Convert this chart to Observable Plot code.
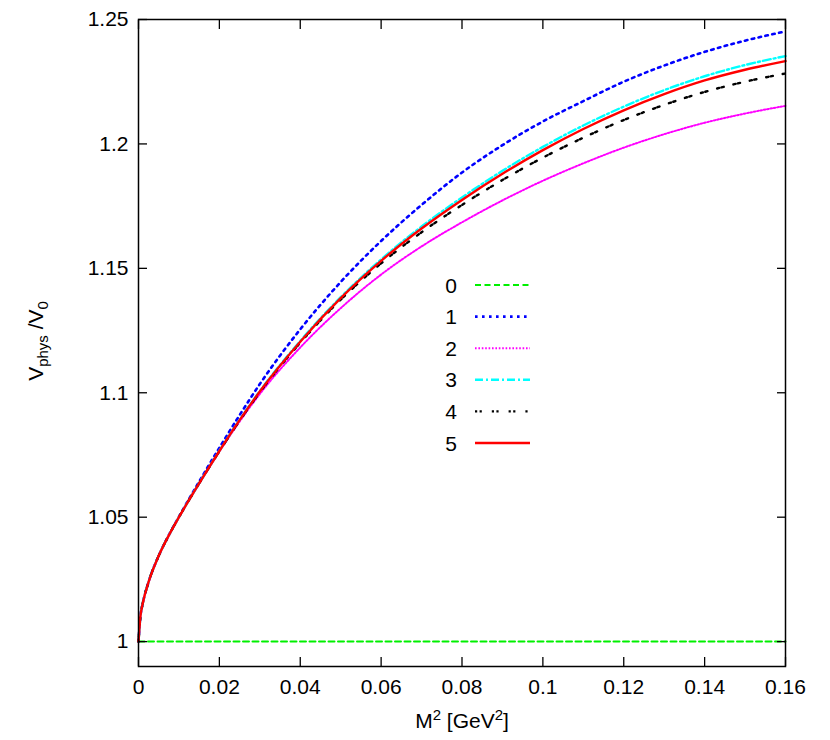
<!DOCTYPE html>
<html><head><meta charset="utf-8">
<script src="https://cdn.jsdelivr.net/npm/d3@7"></script>
<script src="https://cdn.jsdelivr.net/npm/@observablehq/plot@0.6"></script>
<style>
body{margin:0;background:#fff;}
#wrap{position:relative;width:830px;height:740px;font-family:"Liberation Sans",Arial,sans-serif;}
</style></head><body><div id="wrap"></div>
<script>
// x grid (M^2 in GeV^2)
const xs = [0, 0.0005, 0.001, 0.0025, 0.005, 0.0075, 0.01, 0.015, 0.02, 0.025, 0.03, 0.04, 0.05, 0.06, 0.07, 0.08, 0.09, 0.10, 0.11, 0.12, 0.13, 0.14, 0.15, 0.16];
// series values V_phys/V_0
const s0 = [1,1,1,1,1,1,1,1,1,1,1,1,1,1,1,1,1,1,1,1,1,1,1,1];
const s1 = [1.000, 1.0105, 1.015, 1.024, 1.0345, 1.0428, 1.0502, 1.0643, 1.0779, 1.091, 1.1035, 1.1255, 1.1445, 1.161, 1.1755, 1.1885, 1.1995, 1.209, 1.2172, 1.225, 1.2315, 1.237, 1.2415, 1.2452];
const s2 = [1.000, 1.0105, 1.015, 1.024, 1.0345, 1.0427, 1.0500, 1.0635, 1.0764, 1.0884, 1.0995, 1.1182, 1.134, 1.1475, 1.1588, 1.1685, 1.1773, 1.1852, 1.1922, 1.1985, 1.2039, 1.2085, 1.2122, 1.2153];
const s3 = [1.000, 1.0105, 1.015, 1.024, 1.0345, 1.0427, 1.0500, 1.0636, 1.0767, 1.0891, 1.1007, 1.1208, 1.1384, 1.1536, 1.1668, 1.1785, 1.1892, 1.1988, 1.2074, 1.215, 1.2216, 1.2272, 1.2317, 1.2353];
const s4 = [1.000, 1.0105, 1.015, 1.024, 1.0345, 1.0427, 1.0500, 1.0636, 1.0765, 1.0888, 1.1002, 1.1201, 1.1374, 1.152, 1.1645, 1.1755, 1.1855, 1.1945, 1.2025, 1.2096, 1.2157, 1.2209, 1.225, 1.2283];
const s5 = [1.000, 1.0105, 1.015, 1.024, 1.0345, 1.0427, 1.0500, 1.0636, 1.0766, 1.089, 1.1005, 1.1205, 1.138, 1.153, 1.1660, 1.1775, 1.188, 1.1975, 1.206, 1.2135, 1.22, 1.2255, 1.2298, 1.2333];

const seriesNames = ["0", "1", "2", "3", "4", "5"];
const xTicks = [0, 0.02, 0.04, 0.06, 0.08, 0.1, 0.12, 0.14, 0.16];
const yTicks = [1, 1.05, 1.1, 1.15, 1.2, 1.25];

// styles
const colors = ["#00f000", "#0000ff", "#ff00ff", "#00ffff", "#000000", "#ff0000"];
const dashes = ["6,3.5", "2.6,4.4", "1.6,1.8", "8,3,2,3", "2.2,2.4,2.2,10", "none"];
const widths = [2, 2.6, 2, 2.4, 2.4, 2.4];

const values = [s0, s1, s2, s3, s4, s5];
const rows = [];
values.forEach((arr, k) => arr.forEach((v, i) => rows.push({series: seriesNames[k], x: xs[i], y: v})));

const fmt = d => String(+(+d).toFixed(2));
const FONT = '"Liberation Sans", Arial, Helvetica, sans-serif';
const FS = 21;

const chart = Plot.plot({
  width: 830, height: 740,
  marginLeft: 138, marginRight: 45, marginTop: 19, marginBottom: 74,
  style: {fontFamily: FONT, fontSize: FS + "px", background: "#fff", color: "#000", overflow: "visible"},
  x: {domain: [0, 0.16], label: null},
  y: {domain: [0.99, 1.25], label: null},
  marks: [
    ...seriesNames.map((name, k) => Plot.line(rows.filter(r => r.series === name), {
      x: "x", y: "y", stroke: colors[k], strokeWidth: widths[k],
      strokeDasharray: dashes[k], curve: "monotone-x"
    })),
    Plot.axisX(xTicks, {anchor: "bottom", tickSize: 0, tickPadding: 13, tickFormat: fmt, label: null}),
    Plot.axisX(xTicks, {anchor: "bottom", tickSize: -9, fill: "none", label: null, strokeWidth: 1.3}),
    Plot.axisX(xTicks, {anchor: "top", tickSize: -9, fill: "none", label: null, strokeWidth: 1.3}),
    Plot.axisY(yTicks, {anchor: "left", tickSize: 0, tickPadding: 10, tickFormat: fmt, label: null}),
    Plot.axisY(yTicks, {anchor: "left", tickSize: -9, fill: "none", label: null, strokeWidth: 1.3}),
    Plot.axisY(yTicks, {anchor: "right", tickSize: -9, fill: "none", label: null, strokeWidth: 1.3}),
    Plot.frame({stroke: "#000", strokeWidth: 1.5})
  ]
});
document.getElementById("wrap").appendChild(chart);

const svg = d3.select(chart);
// x axis title: M^2 [GeV^2]
const xt = svg.append("text").attr("x", 462).attr("y", 728).attr("text-anchor", "middle")
  .attr("font-family", FONT).attr("font-size", FS).attr("fill", "#000");
xt.append("tspan").text("M");
xt.append("tspan").attr("dy", -8).attr("font-size", 15).text("2");
xt.append("tspan").attr("dy", 8).text(" [GeV");
xt.append("tspan").attr("dy", -8).attr("font-size", 15).text("2");
xt.append("tspan").attr("dy", 8).text("]");

// y axis title: V_phys /V_0
const yt = svg.append("text").attr("transform", "translate(43,341) rotate(-90)").attr("text-anchor", "middle")
  .attr("font-family", FONT).attr("font-size", FS).attr("fill", "#000");
yt.append("tspan").text("V");
yt.append("tspan").attr("dy", 5).attr("font-size", 15).text("phys");
yt.append("tspan").attr("dy", -5).text(" /V");
yt.append("tspan").attr("dy", 5).attr("font-size", 15).text("0");

// legend
const lg = svg.append("g");
seriesNames.forEach((name, k) => {
  const cy = 285 + k * 31.6;
  lg.append("text").attr("x", 457).attr("y", cy).attr("dy", "0.36em").attr("text-anchor", "end")
    .attr("font-family", FONT).attr("font-size", FS).attr("fill", "#000").text(name);
  lg.append("line").attr("x1", 475).attr("x2", 530).attr("y1", cy).attr("y2", cy)
    .attr("stroke", colors[k]).attr("stroke-width", widths[k]).attr("stroke-dasharray", dashes[k]);
});
</script>
</body></html>
